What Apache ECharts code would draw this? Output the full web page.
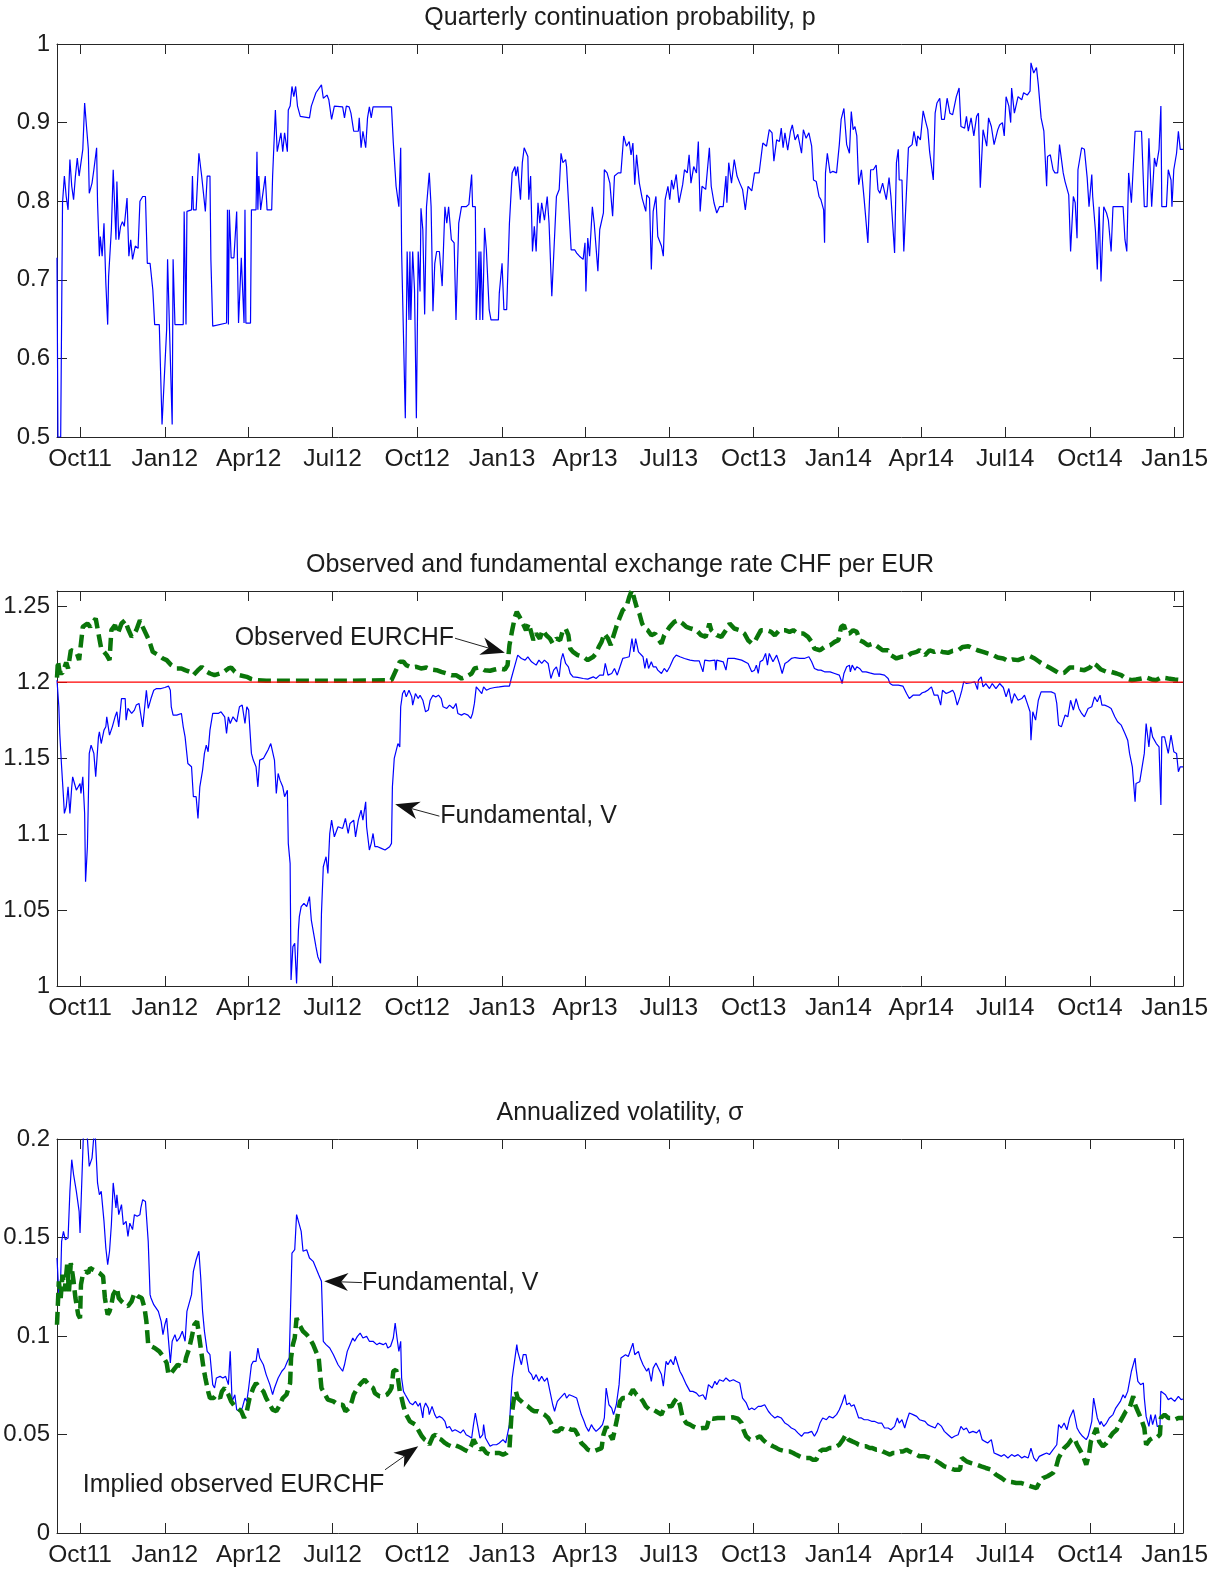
<!DOCTYPE html>
<html><head><meta charset="utf-8">
<script src="https://cdn.jsdelivr.net/npm/echarts@6/dist/echarts.min.js"></script>
<style>html,body{margin:0;padding:0;background:#fff}#chart{width:1225px;height:1570px}</style>
</head><body><div id="chart"></div>
<script>
// x positions are day offsets from startDate (2011-09-06)
const startDate = [2011, 8, 6];
const endDate = [2015, 0, 10];
const monthNames = ['Jan','Feb','Mar','Apr','May','Jun','Jul','Aug','Sep','Oct','Nov','Dec'];
const titles = ['Quarterly continuation probability, p', 'Observed and fundamental exchange rate CHF per EUR', 'Annualized volatility, \u03c3'];
const floorRate = 1.2;

// Panel 1: quarterly continuation probability p
const pData = [[0,0.728],[1,0.500],[4,0.500],[6,0.798],[8,0.832],[10,0.806],[12,0.789],[14,0.853],[16,0.819],[18,0.802],[20,0.832],[22,0.855],[24,0.832],[26,0.832],[28,0.866],[30,0.925],[32,0.895],[34,0.866],[35,0.810],[38,0.823],[40,0.840],[43,0.868],[44,0.798],[46,0.730],[47,0.755],[49,0.730],[51,0.772],[53,0.696],[55,0.643],[56,0.704],[59,0.764],[61,0.840],[64,0.751],[65,0.825],[67,0.751],[69,0.768],[71,0.774],[73,0.768],[76,0.804],[78,0.730],[80,0.751],[82,0.726],[85,0.743],[88,0.740],[90,0.800],[93,0.806],[96,0.806],[98,0.721],[101,0.721],[104,0.687],[106,0.643],[111,0.643],[114,0.516],[119,0.637],[120,0.726],[125,0.516],[126,0.726],[128,0.643],[137,0.643],[138,0.787],[140,0.643],[141,0.787],[146,0.789],[147,0.832],[148,0.789],[151,0.789],[154,0.861],[157,0.832],[159,0.832],[161,0.787],[163,0.832],[166,0.832],[167,0.726],[169,0.641],[184,0.645],[185,0.789],[186,0.643],[187,0.789],[189,0.728],[192,0.728],[195,0.787],[197,0.645],[200,0.728],[203,0.645],[204,0.789],[205,0.645],[210,0.645],[211,0.789],[216,0.789],[217,0.863],[218,0.789],[219,0.832],[221,0.789],[223,0.789],[226,0.832],[228,0.789],[233,0.789],[234,0.832],[237,0.916],[239,0.863],[241,0.863],[243,0.887],[245,0.863],[247,0.887],[250,0.863],[251,0.916],[253,0.921],[255,0.946],[257,0.933],[259,0.946],[261,0.921],[264,0.908],[274,0.906],[276,0.921],[278,0.921],[281,0.938],[287,0.948],[289,0.931],[293,0.935],[295,0.929],[298,0.904],[300,0.906],[301,0.921],[310,0.920],[312,0.906],[314,0.921],[317,0.920],[319,0.912],[322,0.889],[327,0.889],[328,0.906],[330,0.868],[332,0.889],[335,0.868],[337,0.906],[339,0.920],[341,0.906],[343,0.920],[363,0.920],[365,0.874],[368,0.819],[371,0.793],[373,0.868],[374,0.736],[376,0.736],[378,0.524],[380,0.736],[382,0.649],[383,0.736],[384,0.649],[386,0.736],[388,0.687],[390,0.524],[392,0.736],[394,0.685],[395,0.791],[397,0.764],[399,0.656],[401,0.793],[404,0.836],[406,0.793],[408,0.660],[410,0.721],[412,0.736],[415,0.736],[418,0.692],[421,0.793],[423,0.772],[425,0.793],[428,0.751],[431,0.747],[433,0.649],[436,0.772],[439,0.793],[444,0.793],[447,0.796],[450,0.834],[451,0.793],[454,0.793],[455,0.649],[458,0.736],[459,0.649],[460,0.736],[462,0.649],[464,0.766],[466,0.738],[469,0.662],[471,0.649],[479,0.649],[480,0.683],[483,0.721],[485,0.662],[488,0.662],[491,0.772],[494,0.836],[497,0.844],[498,0.832],[500,0.844],[503,0.802],[505,0.849],[507,0.868],[511,0.857],[512,0.802],[514,0.832],[516,0.736],[518,0.768],[520,0.736],[522,0.798],[524,0.772],[526,0.798],[529,0.776],[532,0.806],[534,0.772],[537,0.679],[542,0.806],[545,0.815],[547,0.861],[549,0.849],[552,0.853],[553,0.844],[558,0.738],[562,0.738],[564,0.734],[567,0.730],[571,0.726],[573,0.747],[574,0.685],[576,0.753],[578,0.730],[581,0.793],[583,0.772],[587,0.711],[589,0.764],[593,0.785],[594,0.840],[597,0.836],[600,0.823],[603,0.781],[605,0.832],[609,0.836],[612,0.836],[615,0.883],[618,0.870],[621,0.876],[623,0.859],[625,0.874],[627,0.821],[629,0.859],[632,0.823],[635,0.804],[639,0.787],[640,0.808],[643,0.804],[645,0.713],[647,0.787],[650,0.806],[652,0.755],[656,0.743],[658,0.730],[660,0.802],[663,0.819],[665,0.802],[667,0.827],[669,0.815],[672,0.834],[675,0.798],[679,0.821],[681,0.840],[684,0.836],[686,0.859],[688,0.823],[691,0.844],[694,0.836],[696,0.876],[698,0.787],[700,0.819],[704,0.815],[708,0.868],[710,0.819],[713,0.798],[716,0.785],[719,0.793],[723,0.793],[726,0.832],[727,0.798],[729,0.849],[732,0.823],[735,0.853],[738,0.832],[741,0.823],[744,0.815],[747,0.789],[750,0.819],[754,0.813],[757,0.836],[762,0.836],[766,0.874],[770,0.870],[773,0.891],[776,0.887],[778,0.851],[781,0.878],[784,0.876],[786,0.893],[788,0.868],[790,0.887],[793,0.865],[796,0.889],[798,0.897],[801,0.878],[804,0.885],[808,0.861],[810,0.891],[813,0.880],[816,0.887],[819,0.870],[821,0.827],[824,0.825],[827,0.806],[829,0.802],[832,0.789],[833,0.747],[834,0.836],[836,0.861],[839,0.836],[842,0.838],[846,0.836],[849,0.872],[851,0.904],[854,0.918],[857,0.872],[860,0.861],[862,0.914],[864,0.891],[866,0.895],[868,0.883],[870,0.821],[873,0.840],[876,0.802],[880,0.747],[883,0.840],[886,0.840],[889,0.846],[891,0.815],[893,0.810],[896,0.823],[900,0.802],[903,0.830],[905,0.806],[909,0.734],[911,0.849],[913,0.866],[914,0.827],[917,0.827],[919,0.736],[924,0.868],[928,0.872],[930,0.889],[933,0.870],[934,0.883],[937,0.878],[940,0.915],[943,0.900],[945,0.891],[947,0.863],[951,0.827],[953,0.912],[955,0.925],[958,0.931],[960,0.904],[963,0.904],[966,0.931],[969,0.912],[972,0.910],[976,0.933],[979,0.944],[981,0.895],[985,0.893],[987,0.908],[989,0.889],[992,0.906],[995,0.883],[998,0.908],[1000,0.912],[1002,0.817],[1005,0.891],[1009,0.870],[1011,0.906],[1014,0.895],[1017,0.872],[1021,0.891],[1023,0.897],[1026,0.900],[1028,0.883],[1030,0.933],[1033,0.921],[1035,0.900],[1036,0.944],[1039,0.912],[1043,0.933],[1047,0.929],[1049,0.938],[1053,0.935],[1056,0.940],[1057,0.976],[1060,0.963],[1063,0.970],[1065,0.948],[1068,0.906],[1071,0.889],[1074,0.819],[1075,0.857],[1078,0.859],[1081,0.840],[1083,0.836],[1086,0.836],[1088,0.872],[1090,0.874],[1092,0.836],[1094,0.825],[1096,0.823],[1098,0.808],[1100,0.736],[1103,0.806],[1105,0.798],[1107,0.753],[1108,0.840],[1112,0.868],[1115,0.866],[1118,0.830],[1120,0.793],[1123,0.834],[1124,0.806],[1127,0.762],[1129,0.713],[1131,0.793],[1133,0.698],[1136,0.793],[1139,0.785],[1141,0.776],[1144,0.736],[1146,0.793],[1157,0.793],[1159,0.751],[1161,0.736],[1163,0.836],[1166,0.798],[1170,0.889],[1177,0.889],[1180,0.793],[1183,0.793],[1185,0.880],[1188,0.793],[1191,0.855],[1193,0.844],[1196,0.866],[1198,0.921],[1199,0.793],[1204,0.793],[1206,0.840],[1209,0.827],[1210,0.793],[1212,0.840],[1215,0.861],[1217,0.889],[1219,0.866],[1222,0.866]];

// Panel 2: fundamental V
const vData = [[0,1.2013],[2,1.1838],[3,1.1662],[5,1.1443],[7,1.1246],[8,1.1136],[10,1.1180],[12,1.1311],[14,1.1136],[16,1.1311],[17,1.1377],[19,1.1333],[21,1.1289],[25,1.1333],[26,1.1267],[28,1.1377],[30,1.1136],[31,1.0686],[33,1.0917],[35,1.1531],[37,1.1585],[40,1.1531],[42,1.1377],[45,1.1640],[46,1.1673],[48,1.1596],[51,1.1684],[53,1.1706],[54,1.1772],[57,1.1651],[60,1.1706],[63,1.1772],[65,1.1805],[67,1.1706],[70,1.1892],[74,1.1892],[75,1.1750],[77,1.1827],[81,1.1794],[84,1.1816],[86,1.1849],[89,1.1860],[93,1.1706],[95,1.1706],[97,1.1947],[99,1.1827],[101,1.1838],[102,1.1892],[105,1.1947],[108,1.1958],[113,1.1958],[117,1.1965],[121,1.1974],[123,1.1947],[124,1.1838],[126,1.1783],[130,1.1783],[135,1.1794],[137,1.1706],[139,1.1640],[140,1.1640],[142,1.1465],[146,1.1443],[148,1.1246],[151,1.1246],[153,1.1103],[155,1.1311],[158,1.1421],[160,1.1531],[162,1.1585],[164,1.1542],[166,1.1684],[169,1.1794],[171,1.1805],[175,1.1794],[178,1.1805],[182,1.1772],[184,1.1662],[186,1.1772],[188,1.1728],[191,1.1772],[195,1.1739],[198,1.1838],[201,1.1849],[204,1.1728],[206,1.1838],[208,1.1816],[211,1.1531],[213,1.1487],[216,1.1443],[218,1.1311],[220,1.1487],[224,1.1498],[227,1.1531],[229,1.1553],[232,1.1596],[234,1.1596],[236,1.1487],[238,1.1267],[240,1.1399],[242,1.1355],[245,1.1311],[247,1.1246],[250,1.1289],[251,1.0939],[253,1.0807],[254,1.0039],[256,1.0259],[258,1.0281],[260,1.0017],[262,1.0368],[263,1.0456],[265,1.0522],[268,1.0544],[271,1.0522],[274,1.0588],[276,1.0434],[278,1.0434],[281,1.0259],[283,1.0193],[286,1.0149],[287,1.0478],[289,1.0785],[292,1.0851],[294,1.0741],[296,1.1004],[298,1.1092],[301,1.0982],[305,1.1048],[310,1.1037],[313,1.1103],[316,1.1004],[318,1.1070],[322,1.1092],[324,1.0982],[327,1.1092],[330,1.1158],[332,1.1092],[335,1.1213],[336,1.1048],[339,1.0895],[341,1.0939],[343,1.1004],[345,1.0917],[348,1.0917],[352,1.0906],[356,1.0895],[358,1.0884],[361,1.0917],[363,1.0939],[364,1.1311],[366,1.1498],[370,1.1596],[372,1.1574],[373,1.1838],[375,1.1925],[377,1.1947],[379,1.1903],[382,1.1947],[385,1.1903],[386,1.1849],[389,1.1925],[392,1.1892],[394,1.1914],[397,1.1881],[400,1.1805],[403,1.1816],[405,1.1881],[408,1.1914],[411,1.1903],[414,1.1914],[417,1.1892],[419,1.1838],[423,1.1827],[426,1.1849],[430,1.1827],[433,1.1860],[435,1.1794],[439,1.1783],[442,1.1794],[446,1.1783],[449,1.1761],[451,1.1794],[453,1.1860],[455,1.1969],[458,1.1947],[461,1.1925],[463,1.1969],[466,1.1947],[470,1.1958],[475,1.1965],[480,1.1969],[486,1.1974],[491,1.1974],[493,1.2024],[497,1.2112],[500,1.2178],[504,1.2156],[508,1.2145],[511,1.2167],[515,1.2134],[517,1.2145],[520,1.2112],[523,1.2145],[526,1.2123],[529,1.2145],[533,1.2123],[536,1.2024],[539,1.2079],[542,1.2101],[545,1.2035],[547,1.2145],[549,1.2189],[552,1.2123],[555,1.2101],[557,1.2057],[560,1.2035],[565,1.2031],[571,1.2024],[576,1.2020],[582,1.2035],[585,1.2024],[589,1.2046],[593,1.2046],[595,1.2123],[598,1.2046],[602,1.2057],[605,1.2090],[608,1.2046],[611,1.2101],[614,1.2156],[618,1.2162],[621,1.2167],[624,1.2287],[626,1.2199],[628,1.2287],[631,1.2199],[633,1.2189],[636,1.2167],[638,1.2090],[640,1.2156],[642,1.2090],[645,1.2134],[647,1.2101],[650,1.2101],[652,1.2079],[656,1.2057],[659,1.2090],[662,1.2068],[665,1.2101],[669,1.2156],[672,1.2178],[676,1.2167],[681,1.2156],[687,1.2145],[692,1.2140],[697,1.2140],[701,1.2068],[703,1.2145],[708,1.2140],[714,1.2145],[715,1.2079],[716,1.2145],[723,1.2134],[726,1.2079],[728,1.2156],[735,1.2156],[743,1.2145],[750,1.2123],[754,1.2068],[757,1.2079],[759,1.2112],[761,1.2057],[763,1.2134],[766,1.2145],[769,1.2189],[771,1.2112],[773,1.2189],[777,1.2134],[781,1.2178],[784,1.2123],[787,1.2057],[790,1.2123],[793,1.2134],[797,1.2156],[801,1.2162],[806,1.2156],[811,1.2156],[816,1.2167],[819,1.2134],[822,1.2090],[826,1.2079],[829,1.2079],[833,1.2068],[839,1.2068],[844,1.2057],[849,1.2046],[851,1.2013],[852,1.1991],[854,1.2057],[857,1.2101],[860,1.2112],[861,1.2068],[863,1.2112],[866,1.2079],[868,1.2101],[871,1.2090],[874,1.2068],[878,1.2068],[882,1.2061],[887,1.2053],[893,1.2053],[898,1.2046],[902,1.2024],[904,1.1991],[907,1.1980],[913,1.1980],[918,1.1974],[922,1.1925],[925,1.1892],[929,1.1914],[933,1.1914],[936,1.1914],[939,1.1930],[942,1.1936],[945,1.1947],[949,1.1969],[952,1.1914],[956,1.1914],[959,1.1849],[961,1.1947],[965,1.1925],[969,1.1936],[972,1.1947],[974,1.1925],[977,1.1849],[980,1.1903],[982,1.1947],[984,1.2002],[987,1.1991],[989,1.2002],[992,1.1996],[996,1.2002],[999,1.1952],[1000,1.2013],[1003,1.2035],[1005,1.1969],[1008,1.1991],[1012,1.1958],[1015,1.1991],[1019,1.1958],[1023,1.1991],[1027,1.1965],[1030,1.1903],[1033,1.1958],[1036,1.1860],[1039,1.1925],[1043,1.1881],[1047,1.1892],[1050,1.1914],[1053,1.1860],[1056,1.1805],[1057,1.1618],[1059,1.1805],[1062,1.1750],[1065,1.1881],[1068,1.1936],[1072,1.1936],[1079,1.1936],[1083,1.1925],[1085,1.1860],[1087,1.1717],[1090,1.1706],[1094,1.1783],[1097,1.1772],[1100,1.1881],[1103,1.1816],[1106,1.1892],[1109,1.1827],[1112,1.1794],[1115,1.1772],[1119,1.1827],[1123,1.1838],[1126,1.1903],[1129,1.1871],[1132,1.1914],[1134,1.1849],[1137,1.1849],[1141,1.1838],[1144,1.1827],[1148,1.1772],[1151,1.1739],[1155,1.1717],[1159,1.1662],[1162,1.1618],[1164,1.1531],[1167,1.1443],[1170,1.1213],[1171,1.1333],[1175,1.1344],[1177,1.1344],[1180,1.1531],[1182,1.1728],[1185,1.1574],[1187,1.1706],[1189,1.1640],[1193,1.1596],[1196,1.1574],[1198,1.1191],[1199,1.1640],[1202,1.1640],[1206,1.1531],[1209,1.1651],[1212,1.1542],[1215,1.1531],[1217,1.1410],[1219,1.1443],[1222,1.1443]];

// Panel 2: observed EURCHF
const obsData = [[0,1.203],[1,1.214],[3,1.206],[6,1.206],[10,1.213],[12,1.209],[15,1.221],[17,1.222],[21,1.220],[24,1.2145],[26,1.2254],[28,1.2364],[33,1.2386],[36,1.2364],[38,1.2386],[42,1.2419],[45,1.2320],[48,1.2221],[50,1.2210],[54,1.2178],[57,1.2145],[59,1.2342],[63,1.2375],[66,1.2320],[70,1.2386],[74,1.2408],[77,1.2353],[81,1.2298],[84,1.2320],[86,1.2342],[90,1.2408],[93,1.2364],[95,1.2375],[99,1.2287],[101,1.2254],[104,1.2199],[110,1.2178],[115,1.2156],[119,1.2145],[124,1.2112],[130,1.2090],[135,1.2090],[139,1.2079],[144,1.2068],[148,1.2046],[153,1.2079],[157,1.2101],[161,1.2075],[166,1.2057],[171,1.2046],[177,1.2057],[181,1.2068],[186,1.2090],[189,1.2096],[193,1.2068],[198,1.2046],[206,1.2035],[211,1.2020],[216,1.2013],[227,1.2009],[307,1.2009],[363,1.2013],[372,1.2134],[376,1.2134],[379,1.2112],[385,1.2096],[390,1.2101],[395,1.2090],[401,1.2096],[406,1.2083],[412,1.2079],[417,1.2068],[423,1.2057],[428,1.2046],[433,1.2046],[439,1.2024],[444,1.2035],[450,1.2057],[453,1.2090],[457,1.2096],[461,1.2090],[464,1.2079],[470,1.2075],[475,1.2083],[480,1.2090],[486,1.2083],[489,1.2112],[491,1.2243],[494,1.2342],[497,1.2430],[499,1.2463],[501,1.2452],[504,1.2408],[506,1.2397],[509,1.2342],[512,1.2386],[515,1.2320],[517,1.2276],[520,1.2320],[524,1.2287],[527,1.2342],[531,1.2309],[535,1.2287],[538,1.2254],[542,1.2287],[546,1.2276],[549,1.2342],[552,1.2353],[555,1.2309],[557,1.2221],[560,1.2199],[565,1.2178],[571,1.2167],[576,1.2145],[582,1.2167],[585,1.2189],[588,1.2232],[591,1.2265],[594,1.2320],[598,1.2287],[601,1.2243],[603,1.2287],[607,1.2364],[611,1.2430],[614,1.2474],[618,1.2496],[621,1.2560],[624,1.2605],[627,1.2539],[629,1.2496],[631,1.2507],[632,1.2452],[635,1.2386],[638,1.2353],[641,1.2342],[645,1.2309],[649,1.2320],[652,1.2287],[656,1.2254],[659,1.2309],[665,1.2364],[670,1.2397],[674,1.2408],[679,1.2386],[683,1.2364],[688,1.2353],[694,1.2342],[699,1.2309],[704,1.2298],[708,1.2386],[710,1.2342],[716,1.2309],[721,1.2298],[726,1.2342],[730,1.2386],[735,1.2353],[741,1.2342],[746,1.2320],[750,1.2276],[754,1.2254],[757,1.2265],[761,1.2309],[764,1.2342],[770,1.2342],[775,1.2331],[779,1.2309],[784,1.2342],[790,1.2342],[795,1.2331],[799,1.2342],[804,1.2320],[810,1.2320],[815,1.2298],[819,1.2265],[822,1.2221],[828,1.2210],[833,1.2232],[839,1.2243],[844,1.2265],[848,1.2276],[851,1.2364],[854,1.2375],[857,1.2320],[860,1.2320],[864,1.2342],[868,1.2331],[871,1.2276],[875,1.2265],[880,1.2243],[886,1.2254],[891,1.2232],[896,1.2210],[902,1.2210],[905,1.2178],[911,1.2156],[916,1.2167],[922,1.2167],[927,1.2189],[933,1.2199],[936,1.2210],[942,1.2178],[947,1.2210],[952,1.2199],[956,1.2210],[961,1.2199],[967,1.2193],[972,1.2206],[978,1.2210],[983,1.2232],[989,1.2237],[994,1.2221],[999,1.2210],[1005,1.2199],[1010,1.2189],[1016,1.2178],[1021,1.2162],[1027,1.2156],[1032,1.2140],[1037,1.2149],[1043,1.2145],[1048,1.2156],[1056,1.2171],[1061,1.2156],[1066,1.2134],[1072,1.2112],[1077,1.2096],[1083,1.2075],[1088,1.2057],[1093,1.2061],[1099,1.2096],[1104,1.2096],[1110,1.2083],[1115,1.2079],[1121,1.2096],[1124,1.2127],[1128,1.2112],[1133,1.2083],[1139,1.2068],[1144,1.2068],[1150,1.2057],[1155,1.2046],[1160,1.2024],[1166,1.2013],[1171,1.2018],[1177,1.2024],[1182,1.2031],[1188,1.2018],[1193,1.2013],[1198,1.2031],[1206,1.2024],[1213,1.2018],[1222,1.2013]];

// Panel 3: annualized volatility of fundamental V
const sigVData = [[0,0.1396],[2,0.1210],[4,0.1294],[5,0.1480],[7,0.1531],[9,0.1489],[12,0.1497],[14,0.1734],[16,0.1895],[18,0.1819],[21,0.1734],[24,0.1633],[25,0.1523],[27,0.1514],[29,0.207],[32,0.207],[34,0.207],[35,0.1861],[38,0.1903],[41,0.207],[43,0.207],[44,0.1777],[46,0.1717],[48,0.1734],[51,0.1582],[53,0.1447],[55,0.1362],[57,0.1430],[59,0.1565],[61,0.1777],[64,0.1650],[65,0.1717],[67,0.1616],[70,0.1667],[72,0.1565],[75,0.1582],[77,0.1506],[79,0.1573],[82,0.1540],[84,0.1616],[87,0.1608],[90,0.1616],[91,0.1650],[93,0.1692],[96,0.1683],[99,0.1480],[101,0.1210],[102,0.1193],[105,0.1159],[107,0.1168],[110,0.1125],[113,0.1074],[115,0.1007],[117,0.1057],[119,0.1091],[122,0.0922],[123,0.0863],[125,0.0973],[128,0.1007],[130,0.0973],[133,0.0990],[136,0.1024],[139,0.0973],[141,0.1125],[143,0.1134],[146,0.1210],[148,0.1328],[151,0.1387],[154,0.1430],[156,0.1294],[158,0.1125],[160,0.1024],[163,0.0922],[166,0.0905],[169,0.0753],[171,0.0736],[173,0.0787],[177,0.0795],[180,0.0787],[183,0.0795],[186,0.0753],[188,0.0922],[190,0.0668],[193,0.0702],[195,0.0626],[198,0.0618],[201,0.0634],[204,0.0685],[206,0.0668],[208,0.0736],[211,0.0854],[213,0.0871],[216,0.0871],[218,0.0939],[220,0.0888],[224,0.0854],[227,0.0804],[231,0.0753],[234,0.0702],[236,0.0736],[240,0.0787],[244,0.0821],[247,0.0837],[250,0.0871],[252,0.0888],[253,0.1057],[255,0.1421],[258,0.1438],[260,0.1616],[262,0.1582],[263,0.1565],[265,0.1531],[267,0.1430],[271,0.1438],[272,0.1438],[274,0.1396],[278,0.1379],[281,0.1345],[284,0.1311],[287,0.1278],[289,0.0973],[292,0.0956],[296,0.0939],[300,0.0905],[305,0.0854],[310,0.0821],[312,0.0854],[315,0.0922],[318,0.0956],[321,0.0990],[323,0.0973],[326,0.0998],[329,0.1015],[332,0.0990],[336,0.0998],[339,0.0973],[343,0.0973],[347,0.0956],[350,0.0964],[354,0.0956],[357,0.0964],[359,0.0939],[362,0.0948],[365,0.0990],[367,0.1066],[369,0.0990],[371,0.0922],[373,0.0973],[374,0.0787],[376,0.0719],[378,0.0702],[381,0.0677],[383,0.0660],[386,0.0651],[389,0.0668],[392,0.0643],[394,0.0660],[397,0.0584],[398,0.0634],[400,0.0660],[403,0.0634],[404,0.0601],[407,0.0643],[410,0.0601],[412,0.0584],[415,0.0592],[418,0.0584],[421,0.0567],[423,0.0533],[426,0.0541],[429,0.0516],[432,0.0524],[435,0.0516],[438,0.0508],[441,0.0524],[444,0.0499],[447,0.0491],[450,0.0482],[452,0.0550],[454,0.0609],[456,0.0558],[459,0.0482],[462,0.0499],[463,0.0550],[465,0.0482],[468,0.0457],[470,0.0440],[473,0.0448],[477,0.0448],[480,0.0457],[484,0.0474],[487,0.0457],[489,0.0457],[491,0.0550],[494,0.0787],[497,0.0888],[499,0.0956],[500,0.0922],[502,0.0888],[504,0.0854],[506,0.0905],[509,0.0905],[512,0.0821],[515,0.0804],[517,0.0778],[520,0.0804],[523,0.0770],[526,0.0795],[529,0.0770],[532,0.0787],[535,0.0719],[538,0.0651],[540,0.0618],[543,0.0668],[546,0.0685],[548,0.0677],[551,0.0710],[553,0.0685],[556,0.0702],[560,0.0694],[564,0.0685],[567,0.0634],[569,0.0601],[572,0.0567],[574,0.0541],[577,0.0516],[580,0.0550],[582,0.0533],[585,0.0516],[589,0.0533],[592,0.0550],[594,0.0584],[596,0.0736],[599,0.0651],[602,0.0634],[604,0.0601],[607,0.0651],[610,0.0753],[612,0.0888],[614,0.0888],[617,0.0905],[620,0.0896],[625,0.0964],[627,0.0905],[631,0.0922],[633,0.0888],[636,0.0854],[640,0.0821],[642,0.0837],[645,0.0770],[647,0.0837],[650,0.0863],[652,0.0854],[656,0.0804],[658,0.0745],[661,0.0871],[663,0.0854],[666,0.0880],[669,0.0854],[671,0.0897],[673,0.0905],[676,0.0821],[679,0.0795],[683,0.0753],[687,0.0719],[690,0.0719],[694,0.0710],[697,0.0694],[701,0.0702],[704,0.0677],[707,0.0753],[709,0.0761],[711,0.0736],[714,0.0770],[716,0.0753],[719,0.0778],[723,0.0770],[726,0.0787],[730,0.0770],[734,0.0778],[737,0.0770],[741,0.0761],[744,0.0685],[748,0.0660],[751,0.0626],[754,0.0634],[757,0.0626],[761,0.0643],[764,0.0643],[768,0.0651],[772,0.0618],[775,0.0601],[779,0.0584],[782,0.0592],[786,0.0584],[790,0.0558],[793,0.0550],[797,0.0533],[801,0.0524],[804,0.0508],[808,0.0491],[811,0.0508],[815,0.0508],[819,0.0516],[822,0.0491],[825,0.0516],[828,0.0558],[831,0.0584],[835,0.0575],[838,0.0592],[842,0.0584],[846,0.0601],[849,0.0626],[852,0.0660],[855,0.0702],[857,0.0651],[860,0.0660],[862,0.0643],[865,0.0651],[867,0.0626],[870,0.0584],[873,0.0584],[876,0.0575],[880,0.0575],[884,0.0567],[887,0.0567],[891,0.0558],[895,0.0558],[898,0.0533],[902,0.0533],[905,0.0524],[909,0.0541],[912,0.0584],[914,0.0558],[917,0.0575],[920,0.0533],[922,0.0567],[925,0.0609],[929,0.0601],[933,0.0592],[936,0.0575],[938,0.0575],[942,0.0567],[945,0.0550],[949,0.0541],[953,0.0533],[956,0.0558],[960,0.0541],[963,0.0516],[967,0.0499],[971,0.0482],[974,0.0491],[978,0.0499],[981,0.0541],[984,0.0524],[987,0.0533],[990,0.0508],[994,0.0516],[998,0.0508],[1001,0.0524],[1004,0.0474],[1007,0.0465],[1010,0.0457],[1014,0.0474],[1017,0.0406],[1021,0.0398],[1025,0.0389],[1028,0.0398],[1032,0.0381],[1036,0.0398],[1039,0.0389],[1043,0.0398],[1047,0.0381],[1050,0.0389],[1054,0.0381],[1057,0.0431],[1060,0.0381],[1063,0.0364],[1066,0.0389],[1070,0.0398],[1074,0.0406],[1077,0.0398],[1081,0.0423],[1085,0.0448],[1087,0.0550],[1090,0.0533],[1093,0.0558],[1096,0.0524],[1099,0.0584],[1103,0.0626],[1105,0.0634],[1107,0.0533],[1110,0.0508],[1113,0.0491],[1117,0.0474],[1119,0.0491],[1123,0.0567],[1125,0.0685],[1127,0.0634],[1129,0.0584],[1132,0.0550],[1133,0.0567],[1136,0.0541],[1139,0.0558],[1142,0.0584],[1146,0.0601],[1149,0.0634],[1151,0.0643],[1154,0.0668],[1157,0.0702],[1159,0.0685],[1162,0.0719],[1164,0.0770],[1166,0.0821],[1168,0.0812],[1170,0.0888],[1171,0.0837],[1173,0.0770],[1176,0.0753],[1179,0.0761],[1180,0.0685],[1182,0.0592],[1185,0.0541],[1187,0.0601],[1189,0.0550],[1192,0.0601],[1194,0.0541],[1197,0.0541],[1198,0.0719],[1200,0.0710],[1203,0.0702],[1206,0.0677],[1209,0.0685],[1213,0.0668],[1217,0.0694],[1220,0.0677],[1222,0.0680]];

// Panel 3: implied volatility of observed EURCHF
const sigObsData = [[0,0.1057],[2,0.1277],[4,0.1193],[6,0.1311],[8,0.1227],[9,0.1261],[11,0.1362],[13,0.1227],[15,0.1370],[17,0.1311],[18,0.1277],[20,0.1193],[23,0.1108],[25,0.1091],[26,0.1261],[28,0.1311],[31,0.1328],[34,0.1320],[36,0.1345],[39,0.1337],[43,0.1328],[46,0.1320],[50,0.1303],[52,0.1193],[54,0.1134],[55,0.1108],[57,0.1125],[59,0.1159],[61,0.1210],[63,0.1227],[65,0.1244],[67,0.1193],[70,0.1176],[74,0.1159],[77,0.1151],[81,0.1176],[84,0.1218],[88,0.1201],[92,0.1193],[95,0.1142],[97,0.1074],[99,0.0956],[102,0.0948],[106,0.0939],[111,0.0922],[115,0.0897],[119,0.0863],[121,0.0804],[124,0.0812],[128,0.0837],[131,0.0854],[135,0.0846],[139,0.0863],[140,0.0888],[143,0.0930],[146,0.0990],[149,0.1057],[152,0.1074],[154,0.1007],[157,0.0905],[159,0.0837],[161,0.0787],[164,0.0719],[166,0.0685],[170,0.0685],[173,0.0702],[177,0.0685],[179,0.0719],[182,0.0736],[186,0.0702],[189,0.0668],[193,0.0643],[196,0.0634],[200,0.0618],[203,0.0584],[206,0.0618],[209,0.0685],[213,0.0736],[216,0.0761],[220,0.0736],[224,0.0719],[227,0.0685],[231,0.0651],[234,0.0626],[238,0.0618],[242,0.0651],[245,0.0685],[249,0.0702],[253,0.0761],[254,0.0888],[256,0.0956],[258,0.0990],[260,0.1091],[263,0.1057],[267,0.1024],[271,0.1007],[274,0.0990],[278,0.0956],[281,0.0922],[284,0.0888],[287,0.0736],[291,0.0702],[294,0.0677],[300,0.0668],[305,0.0651],[310,0.0651],[313,0.0618],[317,0.0634],[320,0.0668],[322,0.0702],[326,0.0736],[330,0.0761],[334,0.0778],[337,0.0761],[340,0.0745],[343,0.0736],[345,0.0710],[350,0.0694],[354,0.0694],[358,0.0702],[361,0.0719],[363,0.0736],[365,0.0821],[368,0.0829],[370,0.0787],[372,0.0719],[374,0.0685],[376,0.0643],[379,0.0601],[383,0.0567],[386,0.0558],[389,0.0550],[392,0.0524],[394,0.0516],[396,0.0491],[399,0.0474],[402,0.0465],[404,0.0448],[408,0.0491],[411,0.0499],[413,0.0482],[417,0.0474],[421,0.0457],[424,0.0448],[428,0.0440],[431,0.0448],[435,0.0440],[439,0.0431],[442,0.0423],[446,0.0414],[450,0.0448],[452,0.0474],[455,0.0448],[459,0.0423],[462,0.0431],[466,0.0406],[470,0.0398],[473,0.0406],[477,0.0406],[480,0.0406],[484,0.0398],[488,0.0406],[491,0.0423],[493,0.0584],[496,0.0685],[498,0.0719],[500,0.0685],[504,0.0668],[508,0.0651],[511,0.0643],[515,0.0626],[518,0.0618],[522,0.0618],[526,0.0609],[529,0.0601],[533,0.0584],[537,0.0550],[540,0.0516],[544,0.0516],[547,0.0533],[551,0.0524],[554,0.0533],[558,0.0524],[562,0.0524],[565,0.0499],[569,0.0457],[573,0.0440],[576,0.0423],[582,0.0414],[587,0.0423],[591,0.0431],[593,0.0499],[596,0.0541],[600,0.0499],[603,0.0474],[605,0.0516],[608,0.0584],[611,0.0668],[614,0.0685],[618,0.0685],[621,0.0694],[625,0.0728],[629,0.0702],[632,0.0694],[636,0.0668],[639,0.0643],[643,0.0626],[647,0.0626],[650,0.0618],[656,0.0601],[659,0.0634],[663,0.0643],[667,0.0643],[670,0.0668],[673,0.0685],[676,0.0651],[679,0.0584],[683,0.0558],[687,0.0550],[690,0.0541],[694,0.0533],[697,0.0530],[701,0.0533],[705,0.0533],[708,0.0584],[712,0.0580],[717,0.0584],[723,0.0584],[728,0.0584],[734,0.0587],[739,0.0580],[743,0.0558],[745,0.0524],[748,0.0491],[752,0.0474],[755,0.0474],[759,0.0482],[763,0.0491],[766,0.0474],[770,0.0457],[774,0.0448],[777,0.0440],[781,0.0431],[784,0.0423],[788,0.0418],[791,0.0414],[795,0.0414],[799,0.0406],[802,0.0398],[806,0.0389],[810,0.0381],[813,0.0381],[817,0.0381],[820,0.0372],[824,0.0372],[828,0.0414],[831,0.0423],[835,0.0423],[838,0.0431],[842,0.0431],[846,0.0440],[849,0.0448],[853,0.0474],[856,0.0499],[859,0.0474],[863,0.0465],[867,0.0457],[870,0.0448],[875,0.0440],[878,0.0440],[882,0.0431],[885,0.0431],[889,0.0423],[893,0.0423],[896,0.0414],[900,0.0406],[904,0.0398],[907,0.0406],[911,0.0406],[915,0.0414],[918,0.0414],[922,0.0423],[925,0.0414],[929,0.0406],[933,0.0398],[936,0.0389],[942,0.0389],[947,0.0381],[952,0.0372],[958,0.0355],[963,0.0338],[969,0.0330],[974,0.0321],[980,0.0321],[982,0.0381],[987,0.0364],[992,0.0355],[998,0.0347],[1003,0.0338],[1008,0.0330],[1014,0.0321],[1019,0.0296],[1025,0.0279],[1030,0.0262],[1036,0.0259],[1041,0.0254],[1046,0.0254],[1052,0.0245],[1057,0.0237],[1063,0.0228],[1066,0.0254],[1070,0.0279],[1075,0.0288],[1081,0.0305],[1084,0.0330],[1087,0.0381],[1090,0.0406],[1093,0.0431],[1097,0.0448],[1101,0.0474],[1104,0.0482],[1107,0.0448],[1110,0.0423],[1113,0.0398],[1117,0.0347],[1120,0.0398],[1122,0.0465],[1125,0.0499],[1128,0.0533],[1131,0.0465],[1135,0.0440],[1139,0.0457],[1142,0.0482],[1146,0.0508],[1150,0.0524],[1153,0.0558],[1157,0.0592],[1160,0.0618],[1164,0.0634],[1168,0.0694],[1170,0.0651],[1173,0.0618],[1177,0.0575],[1180,0.0533],[1182,0.0448],[1186,0.0474],[1189,0.0482],[1193,0.0482],[1197,0.0499],[1198,0.0584],[1202,0.0601],[1206,0.0584],[1209,0.0584],[1213,0.0575],[1217,0.0584],[1222,0.0584]];

// Annotations: [dayOffset, value] in each panel's data space
const annotations = [
  {grid: 1, text: 'Observed EURCHF', tail: [432, 1.2289], tip: [486, 1.2193], at: [431, 1.2289], align: 'right'},
  {grid: 1, text: 'Fundamental, V', tail: [415, 1.1118], tip: [367, 1.1197], at: [416, 1.1118], align: 'left'},
  {grid: 2, text: 'Fundamental, V', tail: [331, 0.1271], tip: [290, 0.1278], at: [331, 0.1271], align: 'left'},
  {grid: 2, text: 'Implied observed EURCHF', tail: [356, 0.0321], tip: [392, 0.0440], at: [28, 0.0245], align: 'left'}
];

// ---- build ----
const categories = [];
(function () {
  const t0 = Date.UTC(startDate[0], startDate[1], startDate[2]);
  const t1 = Date.UTC(endDate[0], endDate[1], endDate[2]);
  for (let t = t0; t <= t1; t += 86400000) {
    const d = new Date(t);
    categories.push(d.getUTCFullYear() + '-' + String(d.getUTCMonth() + 1).padStart(2, '0') + '-' + String(d.getUTCDate()).padStart(2, '0'));
  }
})();
function isQuarterStart(v) {
  const m = +v.slice(5, 7), d = +v.slice(8, 10);
  return d === 1 && (m === 1 || m === 4 || m === 7 || m === 10);
}
function fmtLabel(v) { return monthNames[+v.slice(5, 7) - 1] + v.slice(2, 4); }

const FONT = 'Liberation Sans';
const TXT = '#1c1c1c';
const AX = '#262626';
const BLUE = '#0000ff';
const GREEN = '#0a760a';
const grids = [
  {left: 57, top: 44, width: 1126, height: 393},
  {left: 57, top: 591, width: 1126, height: 395},
  {left: 57, top: 1139, width: 1126, height: 394}
];
const yRanges = [{min: 0.5, max: 1, interval: 0.1}, {min: 1, max: 1.26, interval: 0.05}, {min: 0, max: 0.2, interval: 0.05}];

const xAxes = [], yAxes = [];
grids.forEach((g, i) => {
  ['bottom', 'top'].forEach(pos => {
    xAxes.push({
      type: 'category', gridIndex: i, position: pos, data: categories, boundaryGap: false,
      axisLine: {show: true, onZero: false, lineStyle: {color: AX, width: 1}},
      axisTick: {show: true, inside: true, length: 10, interval: (idx, v) => isQuarterStart(v), lineStyle: {color: AX, width: 1}},
      axisLabel: {show: pos === 'bottom', interval: (idx, v) => isQuarterStart(v), formatter: fmtLabel, margin: 10,
        fontFamily: FONT, fontSize: 24.5, color: TXT},
      splitLine: {show: false}
    });
  });
  ['left', 'right'].forEach(pos => {
    yAxes.push({
      type: 'value', gridIndex: i, position: pos, min: yRanges[i].min, max: yRanges[i].max, interval: yRanges[i].interval,
      axisLine: {show: true, onZero: false, lineStyle: {color: AX, width: 1}},
      axisTick: {show: true, inside: true, length: 10, lineStyle: {color: AX, width: 1}},
      axisLabel: {show: pos === 'left', margin: 7, fontFamily: FONT, fontSize: 24, color: TXT, showMaxLabel: i === 1 ? false : null},
      splitLine: {show: false}
    });
  });
});

const blueStyle = {color: BLUE, width: 1.2};
const greenStyle = {color: GREEN, width: 4.5, type: [13, 6], cap: 'butt'};
const series = [
  {type: 'line', xAxisIndex: 0, yAxisIndex: 0, data: pData, symbol: 'none', lineStyle: blueStyle},
  {type: 'line', xAxisIndex: 2, yAxisIndex: 2, data: vData, symbol: 'none', lineStyle: blueStyle},
  {type: 'line', xAxisIndex: 2, yAxisIndex: 2, data: obsData, symbol: 'none', lineStyle: greenStyle},
  {type: 'line', xAxisIndex: 2, yAxisIndex: 2, data: [[0, floorRate], [categories.length - 1, floorRate]], symbol: 'none', lineStyle: {color: '#ff0000', width: 1.2}},
  {type: 'line', xAxisIndex: 4, yAxisIndex: 4, data: sigVData, symbol: 'none', lineStyle: blueStyle},
  {type: 'line', xAxisIndex: 4, yAxisIndex: 4, data: sigObsData, symbol: 'none', lineStyle: greenStyle}
];

const chart = echarts.init(document.getElementById('chart'), null, {renderer: 'canvas'});
chart.setOption({
  animation: false,
  backgroundColor: '#ffffff',
  grid: grids,
  xAxis: xAxes,
  yAxis: yAxes,
  series: series
});

// titles and annotations
const graphics = [];
titles.forEach((t, i) => {
  graphics.push({type: 'text', x: grids[i].left + grids[i].width / 2, y: grids[i].top - 26,
    style: {text: t, font: '25px "Liberation Sans"', fill: TXT, textAlign: 'center', textVerticalAlign: 'middle', align: 'center', verticalAlign: 'middle'}});
});
annotations.forEach(a => {
  const finder = {xAxisIndex: a.grid * 2, yAxisIndex: a.grid * 2};
  const tail = chart.convertToPixel(finder, a.tail);
  const tip = chart.convertToPixel(finder, a.tip);
  const at = chart.convertToPixel(finder, a.at);
  const dx = tip[0] - tail[0], dy = tip[1] - tail[1];
  const len = Math.hypot(dx, dy), ux = dx / len, uy = dy / len, nx = -uy, ny = ux;
  const L = 24, W = 9, N = 17;
  const base = [tip[0] - L * ux, tip[1] - L * uy];
  const notch = [tip[0] - N * ux, tip[1] - N * uy];
  graphics.push({type: 'line', shape: {x1: tail[0], y1: tail[1], x2: notch[0], y2: notch[1]}, style: {stroke: '#222', lineWidth: 1}});
  graphics.push({type: 'polygon', shape: {points: [tip, [base[0] + W * nx, base[1] + W * ny], notch, [base[0] - W * nx, base[1] - W * ny]]}, style: {fill: '#111'}});
  graphics.push({type: 'text', x: at[0], y: at[1],
    style: {text: a.text, font: '25px "Liberation Sans"', fill: TXT, textAlign: a.align, textVerticalAlign: 'middle', align: a.align, verticalAlign: 'middle'}});
});
chart.setOption({graphic: graphics});
</script>
</body></html>
